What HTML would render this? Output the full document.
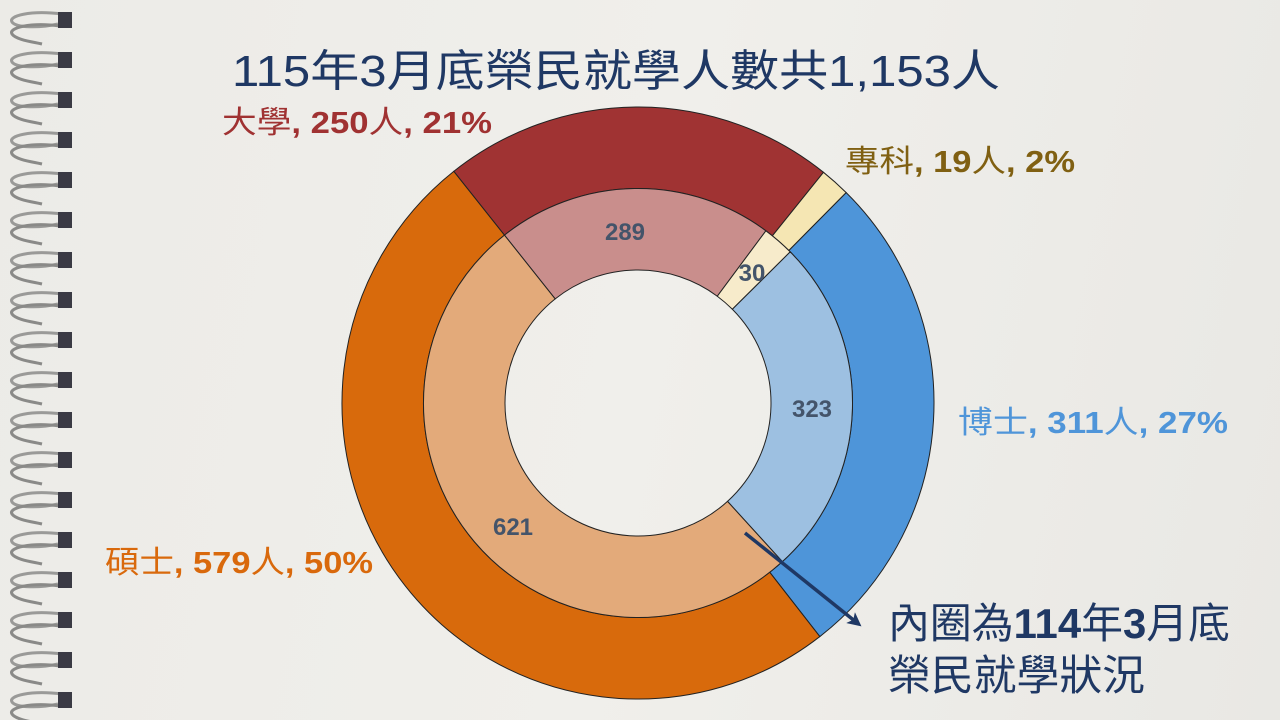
<!DOCTYPE html>
<html><head><meta charset="utf-8">
<style>
html,body{margin:0;padding:0;}
body{width:1280px;height:720px;overflow:hidden;background:linear-gradient(100deg,#ecebe7 0%,#f0efeb 50%,#e9e8e4 100%);font-family:"Liberation Sans","Noto Sans CJK TC",sans-serif;}
svg{position:absolute;left:0;top:0;}
</style></head><body>
<svg id="s" width="1280" height="720" viewBox="0 0 1280 720" xmlns="http://www.w3.org/2000/svg">
<defs>
<marker id="ah" markerWidth="4" markerHeight="4" refX="2" refY="2" orient="auto" markerUnits="strokeWidth">
<path d="M0,0 L4,2 L0,4 L1,2 z" fill="#1f3864"/></marker>
</defs>
<g id="spiral"></g>
<g id="pie" stroke="#222" stroke-width="1"></g>
<g font-family="Liberation Sans,Noto Sans CJK TC,sans-serif">
<text x="232" y="86" font-size="44" fill="#1f3864" textLength="768" lengthAdjust="spacingAndGlyphs">115年3月底榮民就學人數共1,153人</text>
<text x="222" y="133" font-size="31" fill="#a03232" textLength="270" lengthAdjust="spacingAndGlyphs">大學<tspan font-weight="bold">, 250</tspan>人<tspan font-weight="bold">, 21%</tspan></text>
<text x="845" y="172" font-size="31" fill="#806012" textLength="230" lengthAdjust="spacingAndGlyphs">專科<tspan font-weight="bold">, 19</tspan>人<tspan font-weight="bold">, 2%</tspan></text>
<text x="958" y="433" font-size="31" fill="#4f95d9" textLength="270" lengthAdjust="spacingAndGlyphs">博士<tspan font-weight="bold">, 311</tspan>人<tspan font-weight="bold">, 27%</tspan></text>
<text x="105" y="573" font-size="31" fill="#d9690c" textLength="268" lengthAdjust="spacingAndGlyphs">碩士<tspan font-weight="bold">, 579</tspan>人<tspan font-weight="bold">, 50%</tspan></text>
<g font-size="24" font-weight="bold" fill="#44546a" text-anchor="middle">
<text x="625" y="240">289</text>
<text x="752" y="281">30</text>
<text x="812" y="417">323</text>
<text x="513" y="535">621</text>
</g>
<text x="888" y="638" font-size="42" fill="#1f3864" textLength="342" lengthAdjust="spacingAndGlyphs">內圈為<tspan font-weight="bold">114</tspan>年<tspan font-weight="bold">3</tspan>月底</text>
<text x="888" y="690" font-size="42" fill="#1f3864" textLength="257" lengthAdjust="spacingAndGlyphs">榮民就學狀況</text>
</g>
<line x1="745" y1="533" x2="856" y2="622" stroke="#1f3864" stroke-width="3.5" marker-end="url(#ah)"/>
</svg>
<script>
var cx=638,cy=403,NS="http://www.w3.org/2000/svg";
function pt(r,a){var t=a*Math.PI/180;return [cx+r*Math.sin(t),cy-r*Math.cos(t)];}
function seg(r0,r1,a0,a1,c){var p1=pt(r1,a0),p2=pt(r1,a1),p3=pt(r0,a1),p4=pt(r0,a0),l=(a1-a0)>180?1:0;
var d="M"+p1+" A"+r1+","+r1+" 0 "+l+" 1 "+p2+" L"+p3+" A"+r0+","+r0+" 0 "+l+" 0 "+p4+" Z";
var e=document.createElementNS(NS,"path");e.setAttribute("d",d);e.setAttribute("fill",c);document.getElementById("pie").appendChild(e);}
seg(214.5,296,-38.5,38.8,"#a03333");seg(214.5,296,38.8,44.7,"#f5e6b3");seg(214.5,296,44.7,142.1,"#4e95d9");seg(214.5,296,142.1,321.5,"#d86a0c");
seg(133,214.5,-38.5,36.6,"#c98e8c");seg(133,214.5,36.6,45.2,"#f7ebcb");seg(133,214.5,45.2,137.7,"#9dc0e1");seg(133,214.5,137.7,321.5,"#e3aa7a");
var g=document.getElementById("spiral"),h="";
for(var y=14;y<720;y+=40){
h+='<path d="M62,'+(y)+' C30,'+(y-4)+' 8,'+(y+2)+' 12,'+(y+8)+' C16,'+(y+14)+' 40,'+(y+14)+' 58,'+(y+10)+'" fill="none" stroke="#9a9a98" stroke-width="3"/>';
h+='<path d="M60,'+(y+12)+' C30,'+(y+8)+' 8,'+(y+14)+' 12,'+(y+20)+' C16,'+(y+26)+' 34,'+(y+28)+' 42,'+(y+30)+'" fill="none" stroke="#8a8a88" stroke-width="3"/>';
h+='<rect x="58" y="'+(y-2)+'" width="14" height="16" fill="#3a3a44"/>';
}
g.innerHTML=h;
</script>
</body></html>
